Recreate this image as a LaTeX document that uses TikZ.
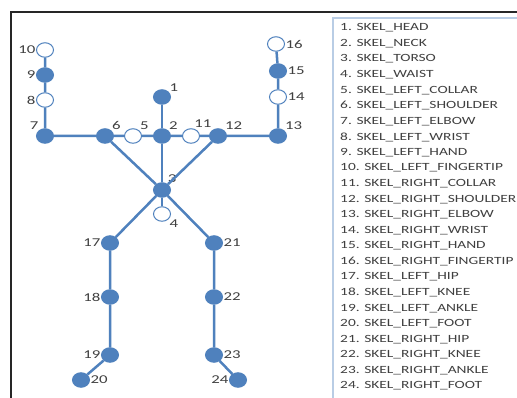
\documentclass[tikz,border=0pt]{standalone}
\usepackage{fontspec}
\setmainfont{Carlito}
\newfontfamily\widefont[FakeStretch=1.4]{Carlito}
\usetikzlibrary{shapes.geometric}
\usetikzlibrary{positioning}
\definecolor{skelblue}{HTML}{4F81BD}
\definecolor{textgray}{HTML}{404040}
\definecolor{boxblue}{HTML}{B9CDE5}
\tikzset {
  bone/.style = {
    draw = skelblue,
    line width = 2.5pt
  },
  % joint node, filled
  joint/.style = {
    ellipse,
    draw = skelblue,
    fill = skelblue,
    line width = 1pt,
    minimum width = 17pt,
    minimum height = 14.5pt,
    inner sep = 0
  },
  % joint node, hollow
  ojoint/.style = {
    joint,
    fill = white
  },
  num/.style = {
    font = \widefont\fontsize{12}{12}\selectfont,
    text = textgray,
    inner sep = 0.5pt
  },
  item/.style = {
    font = \widefont\fontsize{11}{11}\selectfont,
    text = textgray,
    anchor = west,
    inner sep = 0
  },
  label distance = 0pt
}

\begin{document}
\begin{tikzpicture}[x=1pt,y=-1pt]
    \useasboundingbox (0,0) rectangle (517,398);
    \fill[white] (0,0) rectangle (517,398);

    % frame and legend box
    \draw[line width=1.8pt, black!85] (11,398) -- (11,12) -- (517,12);
    \draw[line width=1.6pt, boxblue] (333,398) -- (333,18) -- (517,18);

    % arms and head
    \node[ojoint] (n10) at (45,50) [label={[num]left:10}] {};
    \node[joint] (n9) at (45,75) [label={[num]left:9}] {};
    \node[ojoint] (n8) at (45,100) [label={[num]left:8}] {};
    \node[joint] (n7) at (45,136) [label={[num]135:7}] {};
    \node[joint] (n6) at (105,136) [label={[num]40:6}] {};
    \node[ojoint] (n5) at (133,136) [label={[num]40:5}] {};
    \node[joint] (n2) at (162,136) [label={[num]40:2}] {};
    \node[ojoint] (n11) at (191,136) [label={[num]70:11}] {};
    \node[joint] (n12) at (218,136) [label={[num]40:12}] {};
    \node[joint] (n13) at (278,136) [label={[num]40:13}] {};
    \node[ojoint] (n14) at (278,97) [label={[num]right:14}] {};
    \node[joint] (n15) at (278,71) [label={[num]right:15}] {};
    \node[ojoint] (n16) at (276,44) [label={[num]right:16}] {};
    \node[joint] (n1) at (162,97) [label={[num]35:1}] {};
    \node[joint] (n3) at (162,190) [label={[num]50:3}] {};
    \node[ojoint] (n4) at (162,214) [label={[num]-35:4}] {};

    % legs
    \node[joint] (n17) at (110,243) [label={[num]left:17}] {};
    \node[joint] (n18) at (110,297) [label={[num]left:18}] {};
    \node[joint] (n19) at (110,355) [label={[num]left:19}] {};
    \node[joint] (n20) at (81,380) [label={[num]right:20}] {};
    \node[joint] (n21) at (214,243) [label={[num]right:21}] {};
    \node[joint] (n22) at (214,297) [label={[num]right:22}] {};
    \node[joint] (n23) at (214,355) [label={[num]right:23}] {};
    \node[joint] (n24) at (238,380) [label={[num]left:24}] {};

    \draw[bone] (n10) -- (n9) -- (n8) -- (n7) -- (n6) -- (n5) -- (n2)
    -- (n11) -- (n12) -- (n13) -- (n14) -- (n15) -- (n16);
    \draw[bone] (n1) -- (n2) -- (n3) -- (n4);
    \draw[bone] (n6) -- (n3) -- (n12);
    \draw[bone] (n3) -- (n17) -- (n18) -- (n19) -- (n20);
    \draw[bone] (n3) -- (n21) -- (n22) -- (n23) -- (n24);

    % legend
    \foreach \i/\jname in {1/HEAD,2/NECK,3/TORSO,4/WAIST,
      5/LEFT\_COLLAR,6/LEFT\_SHOULDER,7/LEFT\_ELBOW,8/LEFT\_WRIST,
      9/LEFT\_HAND,10/LEFT\_FINGERTIP,11/RIGHT\_COLLAR,
      12/RIGHT\_SHOULDER,13/RIGHT\_ELBOW,14/RIGHT\_WRIST,
      15/RIGHT\_HAND,16/RIGHT\_FINGERTIP,17/LEFT\_HIP,18/LEFT\_KNEE,
      19/LEFT\_ANKLE,20/LEFT\_FOOT,21/RIGHT\_HIP,22/RIGHT\_KNEE,
      23/RIGHT\_ANKLE,24/RIGHT\_FOOT}
      \node[item] (item-\i) at (340,{28+15.57*(\i-1)}) {\i. SKEL\_\jname};
\end{tikzpicture}
\end{document}
